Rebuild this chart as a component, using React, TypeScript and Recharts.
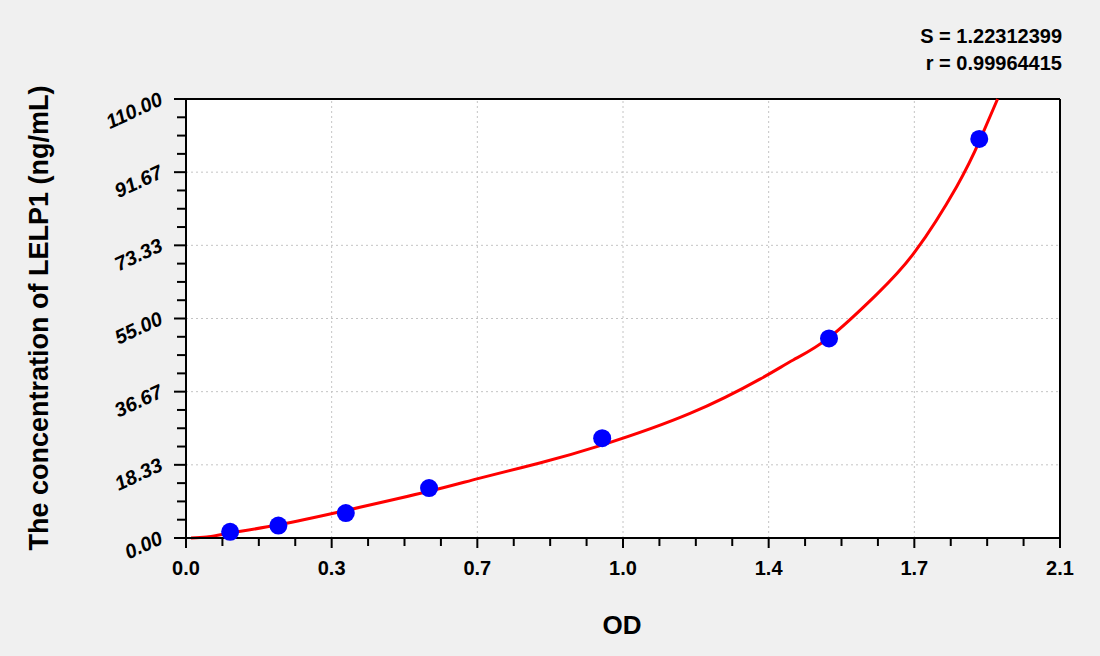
import React from "react";
import {
  ComposedChart,
  Line,
  Scatter,
  XAxis,
  YAxis,
  CartesianGrid,
  ReferenceLine,
} from "recharts";

// standard points (OD vs concentration)
const STD_OD = [0.106, 0.222, 0.384, 0.584, 1.0, 1.545, 1.906];
const STD_CONC = [1.56, 3.12, 6.25, 12.5, 25, 50, 100];

// fitted curve
const FIT_OD = [0.012, 0.05, 0.106, 0.222, 0.384, 0.584, 0.706, 0.85, 1.003, 1.211, 1.379, 1.459, 1.545, 1.659, 1.752, 1.852, 1.908, 1.95];
const FIT_CONC = [0, 0.25, 1.25, 3.3, 6.9, 11.7, 15.0, 18.8, 23.4, 31.2, 39.8, 44.6, 50.2, 61.0, 71.8, 88.1, 99.8, 110];

const X_MAJOR = [0, 0.35, 0.7, 1.05, 1.4, 1.75, 2.1];
const X_LABELS = ["0.0", "0.3", "0.7", "1.0", "1.4", "1.7", "2.1"];
const X_MINOR = [
  0.0875, 0.175, 0.2625, 0.4375, 0.525, 0.6125, 0.7875, 0.875, 0.9625,
  1.1375, 1.225, 1.3125, 1.4875, 1.575, 1.6625, 1.8375, 1.925, 2.0125,
];

const Y_MAJOR = [0, 18.333, 36.667, 55, 73.333, 91.667, 110];
const Y_LABELS = ["0.00", "18.33", "36.67", "55.00", "73.33", "91.67", "110.00"];
const Y_MINOR = [
  4.583, 9.167, 13.75, 22.917, 27.5, 32.083, 41.25, 45.833, 50.417,
  59.583, 64.167, 68.75, 77.917, 82.5, 87.083, 96.25, 100.833, 105.417,
];

const FONT = "'Liberation Sans', Arial, sans-serif";

const stdData = STD_OD.map((od, i) => ({ od, conc: STD_CONC[i] }));
const fitData = FIT_OD.map((od, i) => ({ od, conc: FIT_CONC[i] }));

function XTick(props: any) {
  const { x, y, payload } = props;
  const i = X_MAJOR.indexOf(payload.value);
  const major = i >= 0;
  return (
    <g>
      <line x1={x} x2={x} y1={y} y2={y + (major ? 10 : 8)} stroke="#000" strokeWidth={2} />
      {major && (
        <text x={x} y={y + 37} textAnchor="middle" fontFamily={FONT} fontWeight="bold" fontSize={20} fill="#000">
          {X_LABELS[i]}
        </text>
      )}
    </g>
  );
}

function YTick(props: any) {
  const { x, y, payload } = props;
  const i = Y_MAJOR.indexOf(payload.value);
  const major = i >= 0;
  const tx = x - 22;
  const ty = y + 5;
  return (
    <g>
      <line x1={x - (major ? 12 : 9)} x2={x} y1={y} y2={y} stroke="#000" strokeWidth={2} />
      {major && (
        <text
          x={tx}
          y={ty}
          textAnchor="end"
          transform={`rotate(-25, ${tx}, ${ty})`}
          fontFamily={FONT}
          fontWeight="bold"
          fontStyle="italic"
          fontSize={20}
          fill="#000"
        >
          {Y_LABELS[i]}
        </text>
      )}
    </g>
  );
}

export default function App() {
  return (
    <div style={{ position: "absolute", left: 0, top: 0, width: 1100, height: 656, background: "#f0f0f0" }}>
      <ComposedChart
        width={1100}
        height={656}
        margin={{ top: 99, right: 40, bottom: 58, left: 106 }}
      >
        <CartesianGrid fill="#ffffff" horizontal={false} vertical={false} />
        {X_MAJOR.slice(1, -1).map((v) => (
          <ReferenceLine key={`gx${v}`} x={v} stroke="#c4c4c4" strokeDasharray="2 3" />
        ))}
        {Y_MAJOR.slice(1, -1).map((v) => (
          <ReferenceLine key={`gy${v}`} y={v} stroke="#c4c4c4" strokeDasharray="2 3" />
        ))}
        <XAxis
          dataKey="od"
          type="number"
          domain={[0, 2.1]}
          ticks={[...X_MAJOR, ...X_MINOR]}
          interval={0}
          tickSize={0}
          tickMargin={0}
          tickLine={false}
          tick={XTick}
          axisLine={{ stroke: "#000", strokeWidth: 2 }}
          height={60}
        />
        <YAxis
          dataKey="conc"
          type="number"
          domain={[0, 110]}
          ticks={[...Y_MAJOR, ...Y_MINOR]}
          interval={0}
          tickSize={0}
          tickMargin={0}
          tickLine={false}
          tick={YTick}
          axisLine={{ stroke: "#000", strokeWidth: 2 }}
          width={80}
        />
        <ReferenceLine y={110} stroke="#000" strokeWidth={2} />
        <ReferenceLine x={2.1} stroke="#000" strokeWidth={2} />
        <Scatter
          data={stdData}
          dataKey="conc"
          fill="#0000ff"
          isAnimationActive={false}
          shape={(p: any) => <circle cx={p.cx} cy={p.cy} r={9} fill="#0000ff" />}
        />
        <Line
          data={fitData}
          dataKey="conc"
          type="natural"
          stroke="#ff0000"
          strokeWidth={3}
          dot={false}
          activeDot={false}
          isAnimationActive={false}
        />
      </ComposedChart>
      <svg
        width={1100}
        height={656}
        style={{ position: "absolute", left: 0, top: 0, pointerEvents: "none" }}
      >
        <text x={1062} y={43} textAnchor="end" fontFamily={FONT} fontWeight="bold" fontSize={20} fill="#000">
          S = 1.22312399
        </text>
        <text x={1062} y={70} textAnchor="end" fontFamily={FONT} fontWeight="bold" fontSize={20} fill="#000">
          r = 0.99964415
        </text>
        <text x={622} y={634} textAnchor="middle" fontFamily={FONT} fontWeight="bold" fontSize={26} fill="#000">
          OD
        </text>
        <text
          x={48}
          y={318}
          textAnchor="middle"
          transform="rotate(-90, 48, 318)"
          fontFamily={FONT}
          fontWeight="bold"
          fontSize={27}
          fill="#000"
        >
          The concentration of LELP1 (ng/mL)
        </text>
      </svg>
    </div>
  );
}
